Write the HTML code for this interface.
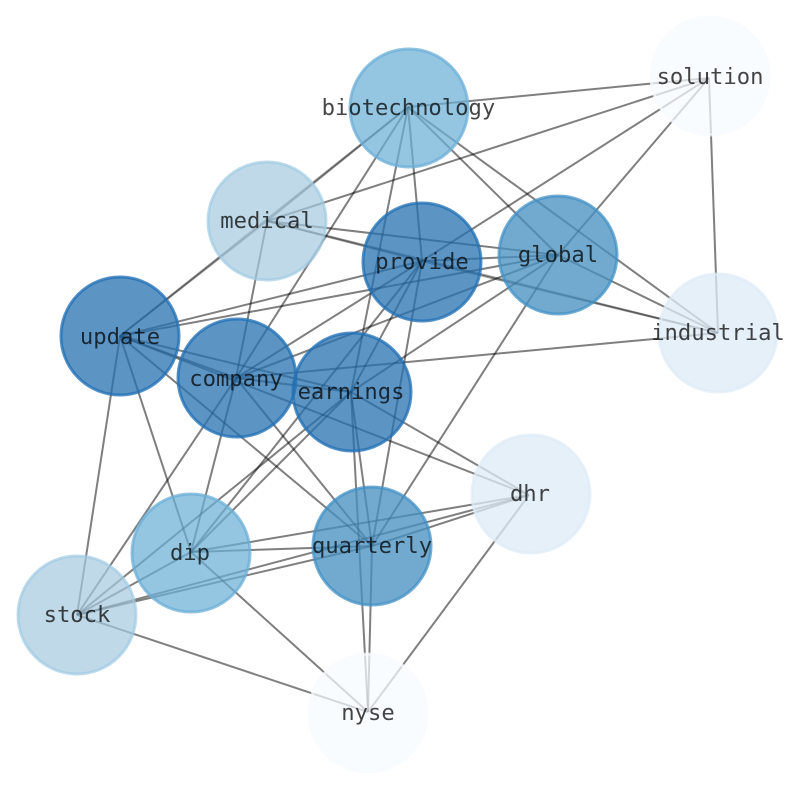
<!DOCTYPE html>
<html><head><meta charset="utf-8"><style>
html,body{margin:0;padding:0;background:#fff;width:794px;height:790px;overflow:hidden}
svg{display:block}
text{font-family:"DejaVu Sans Mono","Liberation Mono",monospace;font-size:22.2px;fill:#000;fill-opacity:.73;text-anchor:middle}
.e line{stroke:#000;stroke-opacity:.5;stroke-width:2}
.e line.d{stroke-opacity:.4}
.n circle{stroke-width:3}
</style></head><body>
<svg width="794" height="790" viewBox="0 0 794 790" xmlns="http://www.w3.org/2000/svg">
<rect width="794" height="790" fill="#fff"/>
<g class="e">
<!-- biotechnology -->
<line x1="408" y1="107" x2="709" y2="78"/>
<line class="d" x1="408" y1="107" x2="120" y2="336"/>
<line class="d" x1="408" y1="107" x2="267" y2="221"/>
<line x1="408" y1="107" x2="236" y2="378"/>
<line x1="408" y1="107" x2="351" y2="392"/>
<line x1="408" y1="107" x2="422" y2="261"/>
<line x1="408" y1="107" x2="558" y2="255"/>
<line x1="408" y1="107" x2="718" y2="333"/>
<!-- solution -->
<line x1="709" y1="78" x2="267" y2="221"/>
<line x1="709" y1="78" x2="422" y2="261"/>
<line x1="709" y1="78" x2="558" y2="255"/>
<line x1="709" y1="78" x2="718" y2="333"/>
<!-- medical -->
<line class="d" x1="267" y1="221" x2="120" y2="336"/>
<line x1="267" y1="221" x2="236" y2="378"/>
<line x1="267" y1="221" x2="558" y2="255"/>
<line class="d" x1="267" y1="221" x2="422" y2="261"/>
<line class="d" x1="267" y1="221" x2="718" y2="333"/>
<!-- provide -->
<line class="d" x1="422" y1="261" x2="718" y2="333"/>
<line x1="422" y1="261" x2="558" y2="255"/>
<line x1="422" y1="261" x2="120" y2="336"/>
<line x1="422" y1="261" x2="236" y2="378"/>
<line x1="422" y1="261" x2="351" y2="392"/>
<line x1="422" y1="261" x2="191" y2="552"/>
<line x1="422" y1="261" x2="372" y2="546"/>
<!-- global -->
<line x1="558" y1="255" x2="120" y2="336"/>
<line x1="558" y1="255" x2="236" y2="378"/>
<line x1="558" y1="255" x2="351" y2="392"/>
<line x1="558" y1="255" x2="372" y2="546"/>
<line x1="558" y1="255" x2="718" y2="333"/>
<!-- update -->
<line x1="120" y1="336" x2="236" y2="378"/>
<line x1="120" y1="336" x2="351" y2="392"/>
<line x1="120" y1="336" x2="529" y2="495"/>
<line x1="120" y1="336" x2="372" y2="546"/>
<line x1="120" y1="336" x2="191" y2="552"/>
<line x1="120" y1="336" x2="77" y2="615"/>
<!-- company -->
<line x1="236" y1="378" x2="351" y2="392"/>
<line x1="236" y1="378" x2="718" y2="333"/>
<line x1="236" y1="378" x2="372" y2="546"/>
<line x1="236" y1="378" x2="191" y2="552"/>
<line x1="236" y1="378" x2="77" y2="615"/>
<!-- earnings -->
<line x1="351" y1="392" x2="529" y2="495"/>
<line x1="351" y1="392" x2="372" y2="546"/>
<line x1="351" y1="392" x2="368" y2="712"/>
<line x1="351" y1="392" x2="191" y2="552"/>
<line x1="351" y1="392" x2="77" y2="615"/>
<!-- quarterly -->
<line x1="372" y1="546" x2="529" y2="495"/>
<line x1="372" y1="546" x2="368" y2="712"/>
<line x1="372" y1="546" x2="191" y2="552"/>
<line x1="372" y1="546" x2="77" y2="615"/>
<!-- dip / dhr / stock / nyse -->
<line x1="191" y1="552" x2="529" y2="495"/>
<line x1="191" y1="552" x2="368" y2="712"/>
<line x1="191" y1="552" x2="77" y2="615"/>
<line x1="77" y1="615" x2="529" y2="495"/>
<line x1="77" y1="615" x2="368" y2="712"/>
<line x1="529" y1="495" x2="368" y2="712"/>
</g>
<g class="n">
<circle cx="710" cy="76" r="59" fill="#f7fbff" fill-opacity=".72" stroke="#f7fbff" stroke-opacity=".72"/>
<circle cx="368" cy="713" r="59" fill="#f7fbff" fill-opacity=".72" stroke="#f7fbff" stroke-opacity=".72"/>
<circle cx="718" cy="333" r="59" fill="#deebf7" fill-opacity=".76" stroke="#deebf7" stroke-opacity=".72"/>
<circle cx="531" cy="494" r="59" fill="#deebf7" fill-opacity=".76" stroke="#deebf7" stroke-opacity=".72"/>
<circle cx="267" cy="221" r="59" fill="#a4c9e0" fill-opacity=".7" stroke="#9ecae1" stroke-opacity=".68"/>
<circle cx="77" cy="615" r="59" fill="#a4c9e0" fill-opacity=".7" stroke="#9ecae1" stroke-opacity=".68"/>
<circle cx="409" cy="108" r="59" fill="#6baed6" fill-opacity=".72" stroke="#6baed6" stroke-opacity=".74"/>
<circle cx="191" cy="553" r="59" fill="#6baed6" fill-opacity=".72" stroke="#6baed6" stroke-opacity=".74"/>
<circle cx="558" cy="255" r="59" fill="#468fc1" fill-opacity=".77" stroke="#4292c6" stroke-opacity=".75"/>
<circle cx="372" cy="546" r="59" fill="#468fc1" fill-opacity=".77" stroke="#4292c6" stroke-opacity=".75"/>
<circle cx="120" cy="336" r="59" fill="#2570b0" fill-opacity=".75" stroke="#2171b5" stroke-opacity=".78"/>
<circle cx="237" cy="378" r="59" fill="#2570b0" fill-opacity=".75" stroke="#2171b5" stroke-opacity=".78"/>
<circle cx="352" cy="392" r="59" fill="#2570b0" fill-opacity=".75" stroke="#2171b5" stroke-opacity=".78"/>
<circle cx="422" cy="262" r="59" fill="#2570b0" fill-opacity=".75" stroke="#2171b5" stroke-opacity=".78"/>
</g>
<g>
<text x="408.4" y="114.8">biotechnology</text>
<text x="710" y="83.8">solution</text>
<text x="267" y="227.8">medical</text>
<text x="422" y="268.8">provide</text>
<text x="558" y="261.8">global</text>
<text x="120" y="343.8">update</text>
<text x="236" y="385.8">company</text>
<text x="351" y="398.8">earnings</text>
<text x="718" y="339.8">industrial</text>
<text x="530" y="500.8">dhr</text>
<text x="372" y="552.8">quarterly</text>
<text x="190" y="559.8">dip</text>
<text x="77" y="621.8">stock</text>
<text x="368" y="719.8">nyse</text>
</g>
</svg>
</body></html>
